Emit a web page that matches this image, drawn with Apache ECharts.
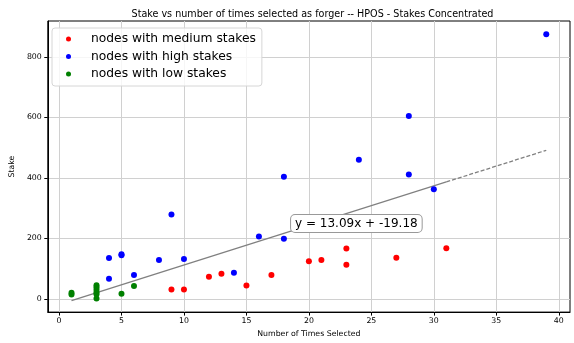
<!DOCTYPE html>
<html>
<head>
<meta charset="utf-8">
<script src="https://cdn.jsdelivr.net/npm/echarts@6/dist/echarts.min.js"></script>
<style>
html,body{margin:0;padding:0;background:#fff;}
#main{width:574px;height:343px;}
</style>
</head>
<body>
<div id="main"></div>
<script>
// 数据: [次数, stake]
var medium=[[9,31],[10,31],[12,73],[13,83],[15,44],[17,79],[20,124],[21,128],[23,166],[23,113],[27,136],[31,167]];
var high=[[4,135],[4,66],[5,147],[5,144],[6,79],[8,128],[9,279],[10,132],[14,86],[16,206],[18,404],[18,199],[24,460],[28,605],[28,411],[30,362],[39,875]];
var low=[[1,20],[1,14],[3,45],[3,38],[3,30],[3,22],[3,15],[3,1],[5,17],[6,42]];
// 拟合线 (solid part + dashed part)
var fitSolid=[[1,-6.1],[31,386.6]];
var fitDashed=[[31,386.6],[39,491.3]];
var fitText='y = 13.09x + -19.18';
var fitLabelAt=[23.8,249];
var xTicks=[0,5,10,15,20,25,30,35,40];
var yTicks=[0,200,400,600,800];

var font='DejaVu Sans';
var myChart=echarts.init(document.getElementById('main'));

var option={
    animation:false,
    backgroundColor:'#fff',
    title:{
        text:'Stake vs number of times selected as forger -- HPOS - Stakes Concentrated',
        left:307.5,
        top:4,
        textAlign:'center',
        textStyle:{fontFamily:font,fontSize:9.6,fontWeight:'normal',color:'#000'}
    },
    legend:{
        orient:'vertical',
        left:52,
        top:28,
        padding:[3,6,4,14],
        itemGap:1.5,
        itemWidth:5,
        itemHeight:5,
        icon:'circle',
        backgroundColor:'rgba(255,255,255,0.8)',
        borderColor:'#d6d6d6',
        borderWidth:1,
        borderRadius:3,
        formatter:'{t|{name}}',
        textStyle:{
            fontFamily:font,fontSize:12.3,color:'#000',lineHeight:16,
            rich:{t:{fontFamily:font,fontSize:12.3,color:'#000',lineHeight:16,padding:[0,0,0,15]}}
        },
        data:['nodes with medium stakes','nodes with high stakes','nodes with low stakes']
    },
    grid:{
        left:45.5,right:4,top:21,bottom:29,
        show:true,borderColor:'#000',borderWidth:1,backgroundColor:'transparent'
    },
    xAxis:{
        type:'value',
        min:-0.9,max:40.9,
        name:'Number of Times Selected',
        nameLocation:'middle',
        nameGap:15,
        nameTextStyle:{fontFamily:font,fontSize:7.8,color:'#000'},
        axisLine:{show:true,onZero:false,lineStyle:{color:'#000',width:1}},
        axisTick:{show:true,length:3.5,customValues:xTicks,lineStyle:{color:'#000'}},
        axisLabel:{customValues:xTicks,fontFamily:font,fontSize:7.8,color:'#000',margin:5},
        splitLine:{show:true,lineStyle:{color:'#d0d0d0',width:1}}
    },
    yAxis:{
        type:'value',
        min:-44,max:919,
        name:'Stake',
        nameLocation:'middle',
        nameGap:24,
        nameTextStyle:{fontFamily:font,fontSize:7.8,color:'#000'},
        axisLine:{show:true,onZero:false,lineStyle:{color:'#000',width:1}},
        axisTick:{show:true,length:3.5,customValues:yTicks,lineStyle:{color:'#000'}},
        axisLabel:{customValues:yTicks,fontFamily:font,fontSize:7.8,color:'#000',margin:6},
        splitLine:{show:true,lineStyle:{color:'#d0d0d0',width:1}}
    },
    series:[
        {
            name:'fit',
            type:'line',
            data:fitSolid,
            symbol:'none',
            silent:true,
            z:3,
            lineStyle:{color:'#808080',width:1.3},
            markPoint:{
                symbol:'circle',
                symbolSize:0,
                data:[{coord:fitLabelAt,value:fitText}],
                label:{
                    show:true,
                    position:'inside',
                    formatter:fitText,
                    fontFamily:font,
                    fontSize:12,
                    color:'#000',
                    backgroundColor:'#fff',
                    borderColor:'#999',
                    borderWidth:1,
                    borderRadius:4,
                    padding:[3,4,2,4]
                }
            }
        },
        {
            name:'fit2',
            type:'line',
            data:fitDashed,
            symbol:'none',
            silent:true,
            z:3,
            lineStyle:{color:'#808080',width:1.3,type:[4,2]}
        },
        {
            name:'nodes with medium stakes',
            type:'scatter',
            data:medium,
            symbolSize:6,
            itemStyle:{color:'#ff0000',opacity:1},
            z:4
        },
        {
            name:'nodes with high stakes',
            type:'scatter',
            data:high,
            symbolSize:6,
            itemStyle:{color:'#0000ff',opacity:1},
            z:4
        },
        {
            name:'nodes with low stakes',
            type:'scatter',
            data:low,
            symbolSize:6,
            itemStyle:{color:'#008000',opacity:1},
            z:4
        }
    ]
};
myChart.setOption(option,true);
</script>
</body>
</html>
